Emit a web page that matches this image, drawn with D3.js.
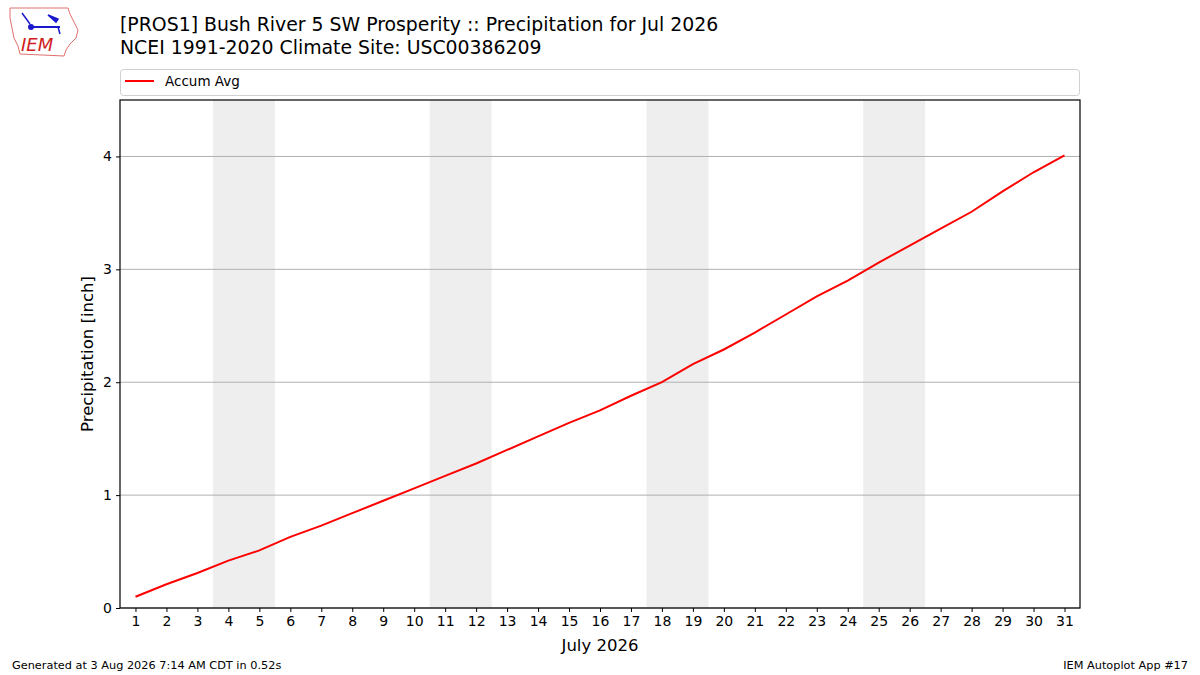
<!DOCTYPE html>
<html>
<head>
<meta charset="utf-8">
<script src="https://cdn.jsdelivr.net/npm/d3@7"></script>
<style>
  body { margin: 0; background: #fff; }
  text { font-family: "DejaVu Sans", sans-serif; fill: #000; }
</style>
</head>
<body>
<div id="chart"></div>
<script>
var svgWidth = 1200;
var svgHeight = 675;

var margin = { top: 100, right: 120, bottom: 67, left: 120 };
var width = svgWidth - margin.left - margin.right;
var height = svgHeight - margin.top - margin.bottom;

// data
var days = d3.range(1, 32);
var accumAvg = [0.10, 0.21, 0.31, 0.42, 0.51, 0.63, 0.73, 0.84, 0.95, 1.06,
  1.17, 1.28, 1.40, 1.52, 1.64, 1.75, 1.88, 2.00, 2.16, 2.29,
  2.44, 2.60, 2.76, 2.90, 3.06, 3.21, 3.36, 3.51, 3.69, 3.86, 4.01];
var weekends = [[4, 5], [11, 12], [18, 19], [25, 26]];
var yTicks = [0, 1, 2, 3, 4];

var svg = d3.select("#chart")
  .append("svg")
  .attr("width", svgWidth)
  .attr("height", svgHeight);

var chartGroup = svg.append("g")
  .attr("transform", `translate(${margin.left}, ${margin.top})`);

var x = d3.scaleLinear().domain([0.5, 31.5]).range([0, width]);
var y = d3.scaleLinear().domain([0, 4.5]).range([height, 0]);

// weekend shading
chartGroup.selectAll(".weekend")
  .data(weekends)
  .enter()
  .append("rect")
  .attr("x", d => x(d[0] - 0.5))
  .attr("width", d => x(d[1] + 0.5) - x(d[0] - 0.5))
  .attr("y", 0)
  .attr("height", height)
  .attr("fill", "#eeeeee");

// horizontal grid
chartGroup.selectAll(".grid")
  .data(yTicks)
  .enter()
  .append("line")
  .attr("x1", 0)
  .attr("x2", width)
  .attr("y1", d => y(d))
  .attr("y2", d => y(d))
  .attr("stroke", "#b0b0b0")
  .attr("stroke-width", 1);

// accumulated line
var line = d3.line()
  .x((d, i) => x(days[i]))
  .y(d => y(d));

chartGroup.append("path")
  .datum(accumAvg)
  .attr("d", line)
  .attr("fill", "none")
  .attr("stroke", "red")
  .attr("stroke-width", 2);

// axes
var bottomAxis = d3.axisBottom(x).tickValues(days).tickSize(4).tickPadding(4).tickFormat(d3.format("d"));
var leftAxis = d3.axisLeft(y).tickValues(yTicks).tickSize(4).tickPadding(4).tickFormat(d3.format("d"));

var xAxis = chartGroup.append("g")
  .attr("transform", `translate(0, ${height})`)
  .call(bottomAxis);
var yAxis = chartGroup.append("g")
  .call(leftAxis);

[xAxis, yAxis].forEach(function (ax) {
  ax.select(".domain").remove();
  ax.selectAll("line").attr("stroke", "#000");
  ax.selectAll("text").attr("font-size", "14px").attr("font-family", "DejaVu Sans").attr("fill", "#000");
});

// frame
chartGroup.append("rect")
  .attr("width", width)
  .attr("height", height)
  .attr("fill", "none")
  .attr("stroke", "#000")
  .attr("stroke-width", 1.2);

// axis labels
chartGroup.append("text")
  .attr("x", width / 2)
  .attr("y", height + 43)
  .attr("text-anchor", "middle")
  .attr("font-size", "16.5px")
  .text("July 2026");

chartGroup.append("text")
  .attr("transform", "rotate(-90)")
  .attr("x", -height / 2)
  .attr("y", -27)
  .attr("text-anchor", "middle")
  .attr("font-size", "16.5px")
  .text("Precipitation [inch]");

// legend
var legend = svg.append("g");
legend.append("rect")
  .attr("x", 120.5).attr("y", 69.5)
  .attr("width", 959).attr("height", 26)
  .attr("rx", 3)
  .attr("fill", "#fff")
  .attr("stroke", "#d0d0d0");
legend.append("line")
  .attr("x1", 125).attr("x2", 154)
  .attr("y1", 81).attr("y2", 81)
  .attr("stroke", "red").attr("stroke-width", 2);
legend.append("text")
  .attr("x", 165).attr("y", 86)
  .attr("font-size", "13.5px")
  .text("Accum Avg");

// titles
svg.append("text")
  .attr("x", 120).attr("y", 31)
  .attr("font-size", "18.87px")
  .text("[PROS1] Bush River 5 SW Prosperity :: Precipitation for Jul 2026");
svg.append("text")
  .attr("x", 120).attr("y", 54)
  .attr("font-size", "18.87px")
  .text("NCEI 1991-2020 Climate Site: USC00386209");

// footer
svg.append("text")
  .attr("x", 12).attr("y", 669)
  .attr("font-size", "11.3px")
  .text("Generated at 3 Aug 2026 7:14 AM CDT in 0.52s");
svg.append("text")
  .attr("x", 1188).attr("y", 669)
  .attr("text-anchor", "end")
  .attr("font-size", "11.3px")
  .text("IEM Autoplot App #17");

// IEM logo (rough)
var logo = svg.append("g");
logo.append("path")
  .attr("d", "M10,8 L68,8 L70,14 L74,22 L78,30 L76,38 L70,44 L66,50 L64,56 L20,54 L18,46 L14,38 L12,28 L10,18 Z")
  .attr("fill", "none")
  .attr("stroke", "#e07070")
  .attr("stroke-width", 1);
logo.append("line")
  .attr("x1", 30).attr("x2", 60).attr("y1", 27).attr("y2", 27)
  .attr("stroke", "#1a1acc").attr("stroke-width", 2);
logo.append("circle")
  .attr("cx", 31).attr("cy", 27).attr("r", 3)
  .attr("fill", "#1a1acc");
logo.append("path")
  .attr("d", "M48,15 L58,19 L56,22 Z M22,13 L30,24 M58,27 L60,34")
  .attr("fill", "#1a1acc").attr("stroke", "#1a1acc").attr("stroke-width", 1.5);
logo.append("text")
  .attr("x", 21).attr("y", 51)
  .attr("font-family", "Liberation Serif, serif")
  .attr("font-style", "italic")
  .attr("font-size", "18px")
  .style("fill", "#d02020")
  .text("IEM");
</script>
</body>
</html>
